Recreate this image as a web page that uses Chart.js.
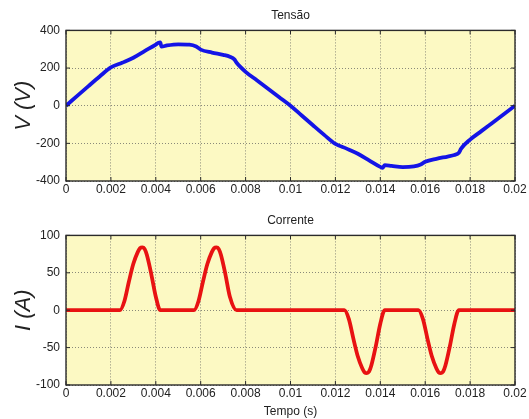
<!DOCTYPE html>
<html>
<head>
<meta charset="utf-8">
<script src="https://cdn.jsdelivr.net/npm/chart.js@4/dist/chart.umd.min.js"></script>
<style>
  html, body { margin: 0; padding: 0; background: #fff; }
  #wrap { position: relative; width: 529px; height: 419px; }
  #cv1 { position: absolute; left: 0; top: 0; }
  #cv2 { position: absolute; left: 0; top: 200px; }
</style>
</head>
<body>
<div id="wrap">
  <canvas id="cv1" width="529" height="200"></canvas>
  <canvas id="cv2" width="529" height="219"></canvas>
</div>
<script>
  // tensão (V)
  const voltTime = [0, 0.0005, 0.001, 0.0015, 0.002, 0.0025, 0.003, 0.0035, 0.004, 0.0041, 0.0042, 0.00425,
    0.0045, 0.005, 0.0055, 0.0058, 0.006, 0.0065, 0.007, 0.0073, 0.0075, 0.0076, 0.008, 0.0085, 0.009, 0.0095,
    0.01, 0.0105, 0.011, 0.0115, 0.012, 0.0125, 0.013, 0.0135, 0.014, 0.0141, 0.0142, 0.0145, 0.015, 0.0155,
    0.0158, 0.016, 0.0165, 0.017, 0.0173, 0.0175, 0.0176, 0.018, 0.0185, 0.019, 0.0195, 0.02];
  const voltValues = [0, 52, 104, 155, 203, 228, 255, 290, 325, 333, 336, 314,
    320, 326, 324, 314, 298, 282, 270, 260, 246, 228, 180, 135, 90, 45,
    0, -52, -104, -155, -203, -228, -255, -290, -325, -330, -316, -320, -326, -322,
    -312, -298, -282, -270, -262, -250, -228, -180, -135, -90, -45, 0];

  // corrente (A)
  const currTime = [0, 0.0024, 0.0026, 0.0028, 0.003, 0.0032, 0.0033, 0.0034, 0.0035, 0.0036, 0.0038, 0.004, 0.0042,
    0.0057, 0.0059, 0.0061, 0.0063, 0.0065, 0.0066, 0.0067, 0.0068, 0.0069, 0.0071, 0.0073, 0.0076,
    0.0124, 0.0126, 0.0128, 0.013, 0.0132, 0.0133, 0.0134, 0.0135, 0.0136, 0.0138, 0.014, 0.0142,
    0.0157, 0.0159, 0.0161, 0.0163, 0.0165, 0.0166, 0.0167, 0.0168, 0.0169, 0.0171, 0.0173, 0.0175, 0.02];
  const currValues = [0, 0, 12, 38, 62, 78, 83, 84, 82, 74, 48, 18, 0,
    0, 12, 38, 62, 78, 83, 84, 82, 74, 48, 18, 0,
    0, -12, -38, -62, -78, -83, -84, -82, -74, -48, -18, 0,
    0, -12, -38, -62, -78, -83, -84, -82, -74, -48, -18, 0, 0];

  const xTicks = [0, 0.002, 0.004, 0.006, 0.008, 0.01, 0.012, 0.014, 0.016, 0.018, 0.02];
  const voltTicks = [-400, -200, 0, 200, 400];
  const currTicks = [-100, -50, 0, 50, 100];

  const FONT = "'Liberation Sans', Arial, sans-serif";

  const framePlugin = {
    id: 'frame',
    beforeDraw(chart) {
      const a = chart.chartArea, ctx = chart.ctx;
      ctx.save();
      ctx.fillStyle = '#FCF9C3';
      ctx.fillRect(a.left, a.top, a.right - a.left, a.bottom - a.top);
      ctx.restore();
    },
    afterDraw(chart) {
      const a = chart.chartArea, ctx = chart.ctx;
      const xs = chart.scales.x, ys = chart.scales.y;
      ctx.save();
      ctx.strokeStyle = '#2b2b2b';
      ctx.lineWidth = 1.4;
      ctx.strokeRect(a.left, a.top, a.right - a.left, a.bottom - a.top);
      ctx.lineWidth = 1;
      ctx.beginPath();
      xs.ticks.forEach(t => {
        const px = xs.getPixelForValue(t.value);
        ctx.moveTo(px, a.bottom); ctx.lineTo(px, a.bottom - 4);
        ctx.moveTo(px, a.top); ctx.lineTo(px, a.top + 4);
      });
      ys.ticks.forEach(t => {
        const py = ys.getPixelForValue(t.value);
        ctx.moveTo(a.left, py); ctx.lineTo(a.left + 4, py);
        ctx.moveTo(a.right, py); ctx.lineTo(a.right - 4, py);
      });
      ctx.stroke();
      ctx.restore();
    }
  };

  function makeChart(id, opts) {
    const pts = opts.time.map((t, i) => ({ x: t, y: opts.values[i] }));
    return new Chart(document.getElementById(id), {
      type: 'line',
      data: {
        datasets: [{
          data: pts,
          borderColor: opts.color,
          borderWidth: 3.8,
          pointRadius: 0,
          fill: false,
          cubicInterpolationMode: 'monotone'
        }]
      },
      options: {
        responsive: false,
        animation: false,
        layout: { padding: { left: 0, right: 14, top: opts.padTop, bottom: 0 } },
        plugins: {
          legend: { display: false },
          tooltip: { enabled: false },
          title: {
            display: true,
            text: opts.title,
            fullSize: false,
            color: '#222',
            font: { family: FONT, size: 12, weight: 'normal' },
            padding: { top: 0, bottom: 8 }
          }
        },
        scales: {
          x: {
            type: 'linear',
            min: 0, max: 0.02,
            afterBuildTicks: s => { s.ticks = xTicks.map(v => ({ value: v })); },
            afterFit: s => { s.height = opts.xHeight; },
            ticks: {
              color: '#222',
              padding: 1,
              maxRotation: 0,
              autoSkip: false,
              font: { family: FONT, size: 12 },
              callback: v => String(parseFloat(v.toFixed(3)))
            },
            grid: { color: '#8a8a7a', drawTicks: false, lineWidth: 1 },
            border: { display: false, dash: [1, 2] },
            title: {
              display: !!opts.xTitle,
              text: opts.xTitle || '',
              color: '#222',
              font: { family: FONT, size: 12 },
              padding: { top: 0, bottom: 0 }
            }
          },
          y: {
            min: opts.yTicks[0], max: opts.yTicks[opts.yTicks.length - 1],
            afterBuildTicks: s => { s.ticks = opts.yTicks.map(v => ({ value: v })); },
            afterFit: s => { s.width = 66; },
            ticks: {
              color: '#222',
              padding: 6,
              font: { family: FONT, size: 12 }
            },
            grid: { color: '#8a8a7a', drawTicks: false, lineWidth: 1 },
            border: { display: false, dash: [1, 2] },
            title: {
              display: true,
              text: opts.yTitle,
              color: '#222',
              font: { family: FONT, size: 22, style: 'italic' },
              padding: { top: 11, bottom: 0 }
            }
          }
        }
      },
      plugins: [framePlugin]
    });
  }

  makeChart('cv1', {
    time: voltTime, values: voltValues, color: '#1414e6',
    title: 'Tensão', yTitle: 'V (V)', yTicks: voltTicks,
    padTop: 8, xHeight: 19
  });
  makeChart('cv2', {
    time: currTime, values: currValues, color: '#e81212',
    title: 'Corrente', yTitle: 'I (A)', yTicks: currTicks,
    padTop: 13, xHeight: 34, xTitle: 'Tempo (s)'
  });
</script>
</body>
</html>
